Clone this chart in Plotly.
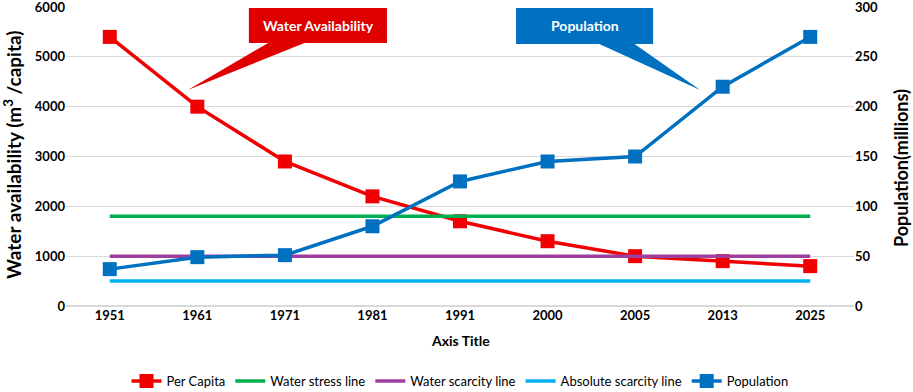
import plotly.graph_objects as go

years = ["1951", "1961", "1971", "1981", "1991", "2000", "2005", "2013", "2025"]
per_capita = [5400, 4000, 2900, 2200, 1700, 1300, 1000, 900, 800]
population = [37, 49, 51, 80, 125, 145, 150, 220, 270]
stress_line = [1800] * 9
scarcity_line = [1000] * 9
absolute_line = [500] * 9

idx = list(range(len(years)))
FONT = "Lato"

fig = go.Figure()
fig.add_trace(go.Scatter(x=idx, y=per_capita, name="Per Capita", mode="lines+markers",
                         line=dict(color="#F00000", width=3.5),
                         marker=dict(symbol="square", size=14, color="#F00000")))
fig.add_trace(go.Scatter(x=idx, y=stress_line, name="Water stress line", mode="lines",
                         line=dict(color="#00B050", width=3.5)))
fig.add_trace(go.Scatter(x=idx, y=scarcity_line, name="Water scarcity line", mode="lines",
                         line=dict(color="#9E3FA0", width=3.5)))
fig.add_trace(go.Scatter(x=idx, y=absolute_line, name="Absolute scarcity line", mode="lines",
                         line=dict(color="#00B0F0", width=3.5)))
fig.add_trace(go.Scatter(x=idx, y=population, name="Population", mode="lines+markers", yaxis="y2",
                         line=dict(color="#0070C0", width=3.5),
                         marker=dict(symbol="square", size=14, color="#0070C0")))

# plot area in page pixels: x 66..854, y 7..306
L, R, T, B = 66, 854, 7, 306

def px_x(p):
    return (p - 110) / 87.5

def px_y(p):
    return (B - p) / (B - T) * 6000

def pap_x(p):
    return (p - L) / (R - L)

def pap_y(p):
    return (B - p) / (B - T)

shapes = []
# Water Availability callout
shapes.append(dict(type="rect", xref="x", yref="y", x0=px_x(249), x1=px_x(387), y0=px_y(43), y1=px_y(8),
                   fillcolor="#E00000", line=dict(width=0), layer="above"))
shapes.append(dict(type="path", xref="x", yref="y",
                   path=f"M {px_x(270)},{px_y(42)} L {px_x(188)},{px_y(90)} L {px_x(307)},{px_y(42)} Z",
                   fillcolor="#E00000", line=dict(width=0), layer="above"))
# Population callout
shapes.append(dict(type="rect", xref="x", yref="y", x0=px_x(516), x1=px_x(653), y0=px_y(44), y1=px_y(8),
                   fillcolor="#0070C0", line=dict(width=0), layer="above"))
shapes.append(dict(type="path", xref="x", yref="y",
                   path=f"M {px_x(597)},{px_y(43)} L {px_x(700)},{px_y(90)} L {px_x(633)},{px_y(43)} Z",
                   fillcolor="#0070C0", line=dict(width=0), layer="above"))

annotations = [
    dict(x=pap_x(318), y=pap_y(26), xref="paper", yref="paper", text="<b>Water Availability</b>", showarrow=False,
         xanchor="center", yanchor="middle", font=dict(family=FONT, size=14, color="white")),
    dict(x=pap_x(585), y=pap_y(26), xref="paper", yref="paper", text="<b>Population</b>", showarrow=False,
         xanchor="center", yanchor="middle", font=dict(family=FONT, size=14, color="white")),
    # axis titles
    dict(x=pap_x(460), y=pap_y(340), xref="paper", yref="paper", text="<b>Axis Title</b>", showarrow=False,
         xanchor="center", yanchor="middle", font=dict(family=FONT, size=14, color="black")),
    dict(x=pap_x(12), y=pap_y(155), xref="paper", yref="paper", xanchor="center", yanchor="middle",
         text="<b>Water availability (m<sup>3</sup> /capita)</b>", showarrow=False, textangle=-90,
         font=dict(family=FONT, size=19, color="black")),
    dict(x=pap_x(901), y=pap_y(168), xref="paper", yref="paper", xanchor="center", yanchor="middle",
         text="<b>Population(millions)</b>", showarrow=False, textangle=-90,
         font=dict(family=FONT, size=18, color="black")),
]

fig.update_layout(
    width=913, height=392,
    margin=dict(l=L, r=913 - R, t=T, b=392 - B, autoexpand=False),
    paper_bgcolor="white", plot_bgcolor="white",
    font=dict(family=FONT, size=13, color="#000000"),
    showlegend=True,
    legend=dict(orientation="h", x=0.5, xanchor="center", y=pap_y(381), yanchor="middle",
                font=dict(family=FONT, size=13, color="#000000")),
    xaxis=dict(range=[-0.5, 8.5], tickmode="array", tickvals=idx, ticktext=[f"<b>{y}</b>" for y in years],
               showgrid=False, zeroline=False, showline=False, ticks="", automargin=False,
               tickfont=dict(family=FONT, size=13)),
    yaxis=dict(range=[0, 6000], dtick=1000, showgrid=True, gridcolor="#D9D9D9", gridwidth=1,
               zeroline=True, zerolinecolor="#D9D9D9", showline=False, ticks="", automargin=False,
               ticklabeloverflow="allow",
               tickfont=dict(family=FONT, size=13),
               tickprefix="<b>", ticksuffix="</b>"),
    yaxis2=dict(range=[0, 300], dtick=50, overlaying="y", side="right", showgrid=False, zeroline=False,
                showline=False, ticks="", automargin=False, ticklabeloverflow="allow",
                tickfont=dict(family=FONT, size=13),
                tickprefix="<b>", ticksuffix="</b>"),
    shapes=shapes,
    annotations=annotations,
)

fig.write_html("out.html", config={"displayModeBar": False},
               post_script="document.body.style.margin='0';document.body.style.overflow='hidden';")
